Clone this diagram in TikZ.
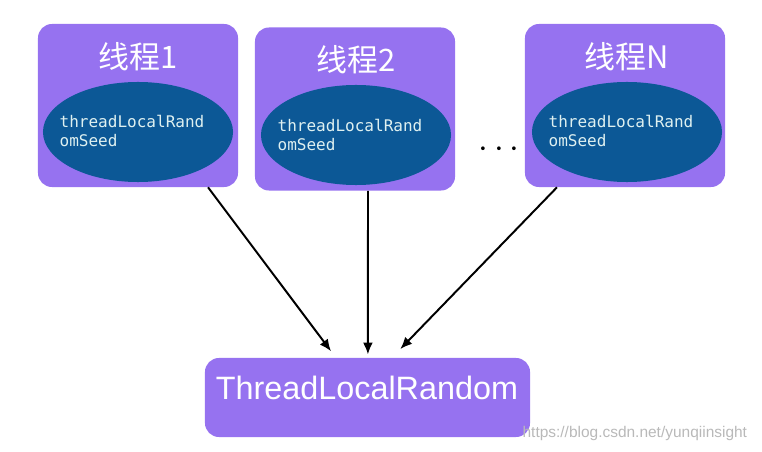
\documentclass[tikz,border=0pt]{standalone}
\usepackage{fontspec}
\setmainfont{Liberation Sans}
\newfontfamily\cjk{Noto Sans CJK SC}
\newfontfamily\seedfont{DejaVu Sans Mono}
\usepackage{tikz}
\usetikzlibrary{shapes,arrows,arrows.meta,positioning}
\definecolor{boxpurple}{RGB}{150,114,240}
\definecolor{seedblue}{RGB}{12,88,150}
\definecolor{seedtext}{RGB}{222,240,240}
\tikzstyle{tbox} = [rectangle, rounded corners=10pt, fill=boxpurple, minimum width=5cm, minimum height=4.075cm, inner sep=0pt]
\tikzstyle{title} = [text=white, font=\cjk\fontsize{22}{24}\selectfont]
\tikzstyle{seed} = [ellipse, fill=seedblue, minimum width=4.75cm, minimum height=2.5cm, inner sep=0pt]
\tikzstyle{seedlabel} = [text=seedtext, font=\seedfont\fontsize{11.4}{13.4}\selectfont, align=left]
\tikzstyle{line} = [draw, line width=1.4pt, -{Latex[length=0.3cm,width=0.25cm]}, shorten >=0.2cm]

\begin{document}
\begin{tikzpicture}[x=0.025cm, y=-0.025cm]
			\useasboundingbox (0,0) rectangle (762,452);

			\node [tbox] (t1) at (138,105.5) {};
			\node [tbox] (t2) at (355,109) {};
			\node [tbox] (tn) at (625,105.5) {};
			\node [tbox, minimum width=8.125cm, minimum height=1.975cm] (trl) at (367.5,397.5) {};

			\node [title] (t1title) at (138,57) {线程1};
			\node [title] (t2title) at (356,60) {线程2};
			\node [title] (tntitle) at (627,57) {线程N};

			\node [seed] (seed1) at (138,132) {};
			\node [seed] (seed2) at (356,135) {};
			\node [seed] (seedn) at (627,132) {};
			\node [seedlabel] (seed1text) at (132,131) {threadLocalRand\\omSeed};
			\node [seedlabel] (seed2text) at (350,135) {threadLocalRand\\omSeed};
			\node [seedlabel] (seedntext) at (621,131) {threadLocalRand\\omSeed};

			\node (dots) at (499,150) {\fontsize{28}{28}\selectfont$\cdots$};

			\node [text=white, font=\fontsize{23}{26}\selectfont] (trltext) at (367,388) {ThreadLocalRandom};

			\node [text=gray!55, font=\fontsize{11}{12}\selectfont, anchor=east] (mark) at (752,433) {https://blog.csdn.net/yunqiinsight};

			\path [line] ([xshift=1.75cm]t1.south) -- ([xshift=-0.79cm]trl.north);
			\path [line, shorten >=0.08cm] ([xshift=0.325cm]t2.south) -- ([xshift=0.01cm]trl.north);
			\path [line, shorten >=0.3cm] ([xshift=-1.7cm]tn.south) -- ([xshift=0.61cm]trl.north);
		\end{tikzpicture}
\end{document}
